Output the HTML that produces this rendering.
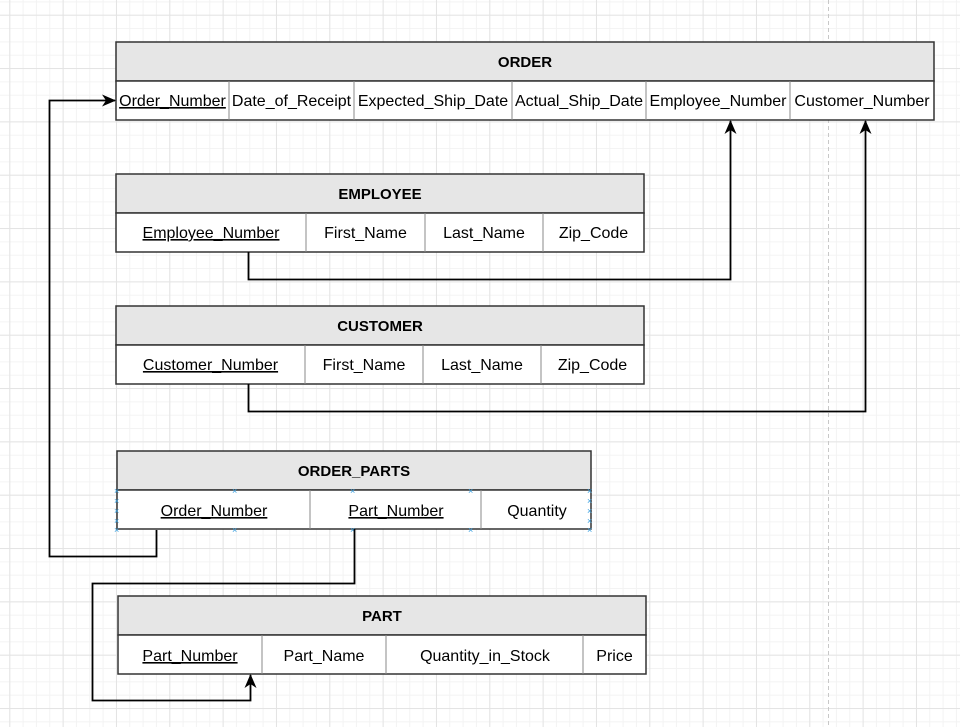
<!DOCTYPE html>
<html><head><meta charset="utf-8"><style>
html,body{margin:0;padding:0;background:#fff;}
svg{display:block;}
text{font-family:"Liberation Sans",Arial,sans-serif;font-size:16px;fill:#000;}
.h{font-weight:bold;font-size:15px;}
</style></head><body>
<svg width="960" height="727" viewBox="0 0 960 727" xmlns="http://www.w3.org/2000/svg">
<defs>
<pattern id="g" x="9.3" y="14.7" width="13.333" height="13.333" patternUnits="userSpaceOnUse">
<path d="M0.5 0V13.333M0 0.5H13.333" stroke="#f3f3f3" stroke-width="1" fill="none"/>
</pattern>
<pattern id="G" x="9.3" y="14.7" width="53.333" height="53.333" patternUnits="userSpaceOnUse">
<path d="M0.5 0V53.333M0 0.5H53.333" stroke="#e4e4e4" stroke-width="1" fill="none"/>
</pattern>
<marker id="a" markerWidth="14" markerHeight="12" refX="13" refY="6" orient="auto" markerUnits="userSpaceOnUse">
<path d="M0,0 L14,6 L0,12 L4,6 z" fill="#000"/>
</marker>
</defs>
<rect width="960" height="727" fill="url(#g)"/>
<rect width="960" height="727" fill="url(#G)"/>
<line x1="828.5" y1="0" x2="828.5" y2="727" stroke="#c8c8c8" stroke-dasharray="4 3"/>

<rect x="116" y="42" width="818" height="39" fill="#e6e6e6" stroke="#333" stroke-width="1.5"/>
<text class="h" x="525" y="67" text-anchor="middle">ORDER</text>
<rect x="116" y="81" width="818" height="39" fill="#fff" stroke="#333" stroke-width="1.5"/>
<g stroke="#888"><line x1="229" y1="81" x2="229" y2="120"/><line x1="354" y1="81" x2="354" y2="120"/><line x1="512" y1="81" x2="512" y2="120"/><line x1="646" y1="81" x2="646" y2="120"/><line x1="790" y1="81" x2="790" y2="120"/></g>
<text x="172.5" y="106" text-anchor="middle" text-decoration="underline">Order_Number</text>
<text x="291.5" y="106" text-anchor="middle">Date_of_Receipt</text>
<text x="433" y="106" text-anchor="middle">Expected_Ship_Date</text>
<text x="579" y="106" text-anchor="middle">Actual_Ship_Date</text>
<text x="718" y="106" text-anchor="middle">Employee_Number</text>
<text x="862" y="106" text-anchor="middle">Customer_Number</text>

<rect x="116" y="174" width="528" height="39" fill="#e6e6e6" stroke="#333" stroke-width="1.5"/>
<text class="h" x="380" y="199" text-anchor="middle">EMPLOYEE</text>
<rect x="116" y="213" width="528" height="39" fill="#fff" stroke="#333" stroke-width="1.5"/>
<g stroke="#888"><line x1="306" y1="213" x2="306" y2="252"/><line x1="425" y1="213" x2="425" y2="252"/><line x1="543" y1="213" x2="543" y2="252"/></g>
<text x="211" y="238" text-anchor="middle" text-decoration="underline">Employee_Number</text>
<text x="365.5" y="238" text-anchor="middle">First_Name</text>
<text x="484" y="238" text-anchor="middle">Last_Name</text>
<text x="593.5" y="238" text-anchor="middle">Zip_Code</text>

<rect x="116" y="306" width="528" height="39" fill="#e6e6e6" stroke="#333" stroke-width="1.5"/>
<text class="h" x="380" y="331" text-anchor="middle">CUSTOMER</text>
<rect x="116" y="345" width="528" height="39" fill="#fff" stroke="#333" stroke-width="1.5"/>
<g stroke="#888"><line x1="305" y1="345" x2="305" y2="384"/><line x1="423" y1="345" x2="423" y2="384"/><line x1="541" y1="345" x2="541" y2="384"/></g>
<text x="210.5" y="370" text-anchor="middle" text-decoration="underline">Customer_Number</text>
<text x="364" y="370" text-anchor="middle">First_Name</text>
<text x="482" y="370" text-anchor="middle">Last_Name</text>
<text x="592.5" y="370" text-anchor="middle">Zip_Code</text>

<rect x="117" y="451" width="474" height="39" fill="#e6e6e6" stroke="#333" stroke-width="1.5"/>
<text class="h" x="354" y="476" text-anchor="middle">ORDER_PARTS</text>
<rect x="117" y="490" width="474" height="39" fill="#fff" stroke="#333" stroke-width="1.5"/>
<g stroke="#888"><line x1="310" y1="490" x2="310" y2="529"/><line x1="481" y1="490" x2="481" y2="529"/></g>
<text x="214" y="516" text-anchor="middle" text-decoration="underline">Order_Number</text>
<text x="396" y="516" text-anchor="middle" text-decoration="underline">Part_Number</text>
<text x="537" y="516" text-anchor="middle">Quantity</text>
<g style="font-size:9px;fill:#3aa0e0">
<text x="114" y="494" style="font-size:9px;fill:#3aa0e0">×</text><text x="232" y="494" style="font-size:9px;fill:#3aa0e0">×</text><text x="350" y="494" style="font-size:9px;fill:#3aa0e0">×</text><text x="468" y="494" style="font-size:9px;fill:#3aa0e0">×</text><text x="587" y="494" style="font-size:9px;fill:#3aa0e0">×</text>
<text x="114" y="504" style="font-size:9px;fill:#3aa0e0">×</text><text x="114" y="514" style="font-size:9px;fill:#3aa0e0">×</text><text x="114" y="524" style="font-size:9px;fill:#3aa0e0">×</text>
<text x="587" y="504" style="font-size:9px;fill:#3aa0e0">×</text><text x="587" y="514" style="font-size:9px;fill:#3aa0e0">×</text><text x="587" y="524" style="font-size:9px;fill:#3aa0e0">×</text>
<text x="114" y="533" style="font-size:9px;fill:#3aa0e0">×</text><text x="232" y="533" style="font-size:9px;fill:#3aa0e0">×</text><text x="350" y="533" style="font-size:9px;fill:#3aa0e0">×</text><text x="468" y="533" style="font-size:9px;fill:#3aa0e0">×</text><text x="587" y="533" style="font-size:9px;fill:#3aa0e0">×</text></g>

<rect x="118" y="596" width="528" height="39" fill="#e6e6e6" stroke="#333" stroke-width="1.5"/>
<text class="h" x="382" y="621" text-anchor="middle">PART</text>
<rect x="118" y="635" width="528" height="39" fill="#fff" stroke="#333" stroke-width="1.5"/>
<g stroke="#888"><line x1="262" y1="635" x2="262" y2="674"/><line x1="386" y1="635" x2="386" y2="674"/><line x1="583" y1="635" x2="583" y2="674"/></g>
<text x="190" y="661" text-anchor="middle" text-decoration="underline">Part_Number</text>
<text x="324" y="661" text-anchor="middle">Part_Name</text>
<text x="485" y="661" text-anchor="middle">Quantity_in_Stock</text>
<text x="614.5" y="661" text-anchor="middle">Price</text>

<g fill="none" stroke="#000" stroke-width="1.8">
<path d="M156.5 530 V556.5 H49.5 V100.5 H115" marker-end="url(#a)"/>
<path d="M248.5 252 V279.5 H730.5 V121" marker-end="url(#a)"/>
<path d="M248.5 384 V411.5 H865.5 V121" marker-end="url(#a)"/>
<path d="M354.5 529 V583.5 H92.5 V700.5 H250.5 V675" marker-end="url(#a)"/>
</g>
</svg>
</body></html>
